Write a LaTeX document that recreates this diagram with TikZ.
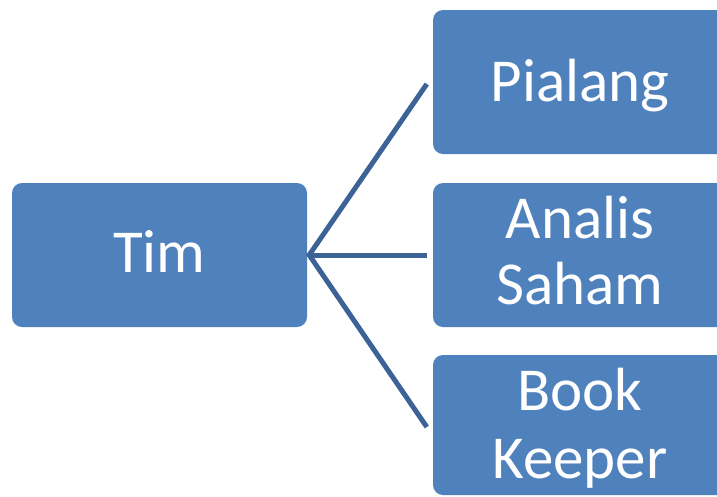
\documentclass[tikz,border=0pt]{standalone}
\usepackage{fontspec}
\setmainfont{Carlito}
\usetikzlibrary{calc}
\definecolor{boxblue}{RGB}{79,129,189}
\definecolor{linkblue}{RGB}{61,99,150}
\tikzset{
  boxnode/.style={rectangle, rounded corners=10pt, fill=boxblue, draw=none,
    minimum width=295pt, inner sep=0pt},
  labeltext/.style={text=white, inner sep=0pt, anchor=base,
    font=\fontsize{61}{67}\selectfont},
  link/.style={draw=linkblue, line width=5pt}
}
\begin{document}
\begin{tikzpicture}[x=1pt,y=-1pt]
\useasboundingbox (0,0) rectangle (717,496);
\clip (0,0) rectangle (717,496);
% boxes
\node[boxnode, minimum height=144pt] (tim) at (159.5,255) {};
\node[boxnode, minimum height=144pt] (pialang) at (580.5,82) {};
\node[boxnode, minimum height=144pt] (analis) at (580.5,255) {};
\node[boxnode, minimum height=140pt] (book) at (580.5,425) {};
% texts
\node[labeltext] (ttim) at (159.5,272) {Tim};
\node[labeltext] (tpialang) at (580,101) {Pialang};
\node[labeltext] (tanalis) at (580,238) {Analis};
\node[labeltext] (tsaham) at (580,304) {Saham};
\node[labeltext] (tbook) at (580,410) {Book};
\node[labeltext] (tkeeper) at (580,478) {Keeper};
% connectors
\coordinate (hub) at ($(tim.east)+(2,0)$);
\coordinate (e1) at ($(pialang.west)+(-6,2)$);
\coordinate (e2) at ($(analis.west)+(-6,0)$);
\coordinate (e3) at ($(book.west)+(-6,2)$);
\draw[link] (e1) -- (hub) -- (e3);
\draw[link] (hub) -- (e2);
\end{tikzpicture}
\end{document}
